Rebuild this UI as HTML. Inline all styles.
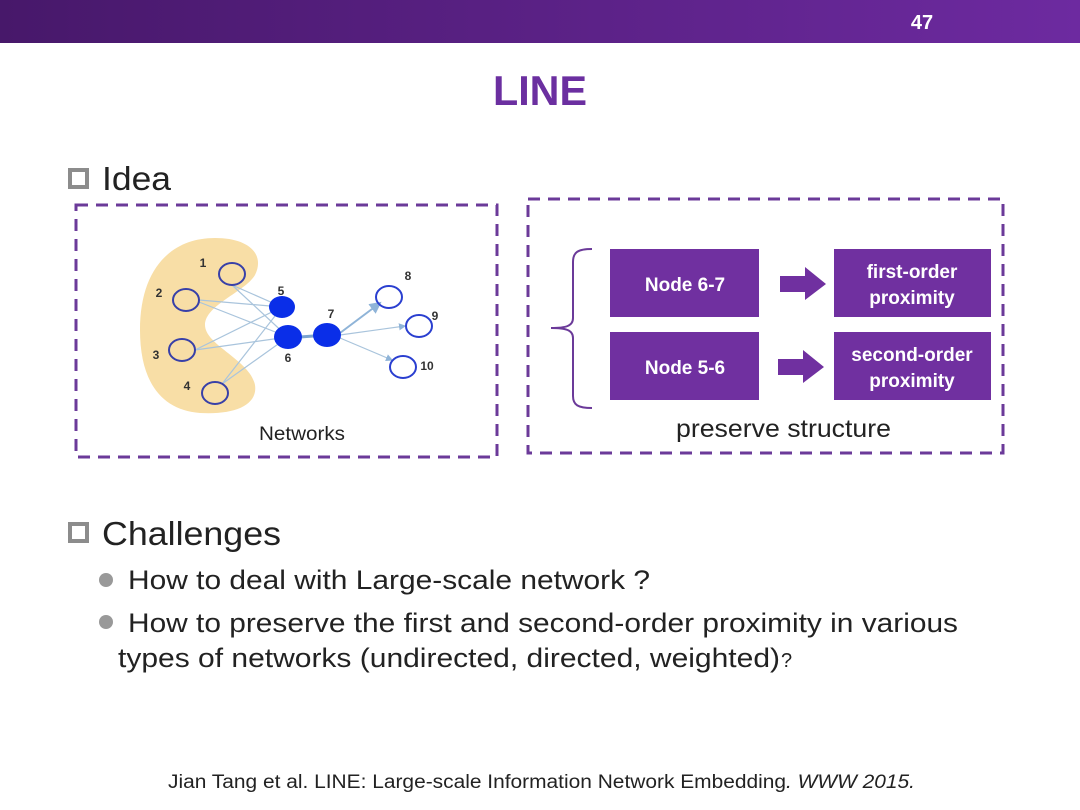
<!DOCTYPE html>
<html><head><meta charset="utf-8"><style>
html,body{margin:0;padding:0;background:#fff;}
svg{display:block;font-family:"Liberation Sans",sans-serif;}
</style></head><body>
<svg width="1080" height="810" viewBox="0 0 1080 810" xmlns="http://www.w3.org/2000/svg">
<defs>
<linearGradient id="hg" x1="0" x2="1" y1="0" y2="0">
<stop offset="0" stop-color="#47186a"/><stop offset="1" stop-color="#6d2aa0"/>
</linearGradient>
<marker id="ah" markerWidth="6" markerHeight="6" refX="5" refY="3" orient="auto"><path d="M0,0 L6,3 L0,6z" fill="#8fb4d8"/></marker>
</defs>
<rect x="0" y="0" width="1080" height="43" fill="url(#hg)"/>
<text x="922" y="29" fill="#fff" font-size="20" font-weight="bold" text-anchor="middle">47</text>
<text x="493" y="105" fill="#6b2fa0" font-size="42" font-weight="bold" textLength="94" lengthAdjust="spacingAndGlyphs">LINE</text>

<rect x="70" y="170" width="17" height="17" fill="none" stroke="#8c8c8c" stroke-width="4"/>
<text x="102" y="190" font-size="33" fill="#222" textLength="69" lengthAdjust="spacingAndGlyphs">Idea</text>

<rect x="76" y="205" width="421" height="252" fill="none" stroke="#6b3a99" stroke-width="3" stroke-dasharray="12 8"/>
<rect x="528" y="199" width="475" height="254" fill="none" stroke="#6b3a99" stroke-width="3" stroke-dasharray="12 8"/>

<path d="M215,238 C250,238 265,255 255,275 C245,292 205,305 205,325 C205,345 250,360 255,385 C258,405 235,415 200,413 C160,410 140,380 140,330 C140,270 170,238 215,238 Z" fill="#f8dea6"/>
<g stroke="#a9c4dc" stroke-width="1.2">
<line x1="232" y1="285" x2="282" y2="307"/><line x1="232" y1="285" x2="288" y2="337"/>
<line x1="199" y1="300" x2="282" y2="307"/><line x1="199" y1="302" x2="288" y2="337"/>
<line x1="195" y1="350" x2="282" y2="307"/><line x1="195" y1="350" x2="288" y2="337"/>
<line x1="222" y1="384" x2="282" y2="307"/><line x1="222" y1="384" x2="288" y2="337"/>
<line x1="300" y1="337" x2="327" y2="335" stroke-width="3" stroke="#7aa3d0"/>
<line x1="340" y1="333" x2="380" y2="303" stroke-width="2" stroke="#8fb4d8" marker-end="url(#ah)"/>
<line x1="340" y1="335" x2="405" y2="326" marker-end="url(#ah)"/>
<line x1="340" y1="338" x2="392" y2="360" marker-end="url(#ah)"/>
</g>
<g fill="none" stroke="#3840a8" stroke-width="2">
<ellipse cx="232" cy="274" rx="13" ry="11"/><ellipse cx="186" cy="300" rx="13" ry="11"/>
<ellipse cx="182" cy="350" rx="13" ry="11"/><ellipse cx="215" cy="393" rx="13" ry="11"/>
</g>
<g fill="none" stroke="#2a3fd0" stroke-width="2">
<ellipse cx="389" cy="297" rx="13" ry="11"/><ellipse cx="419" cy="326" rx="13" ry="11"/>
<ellipse cx="403" cy="367" rx="13" ry="11"/>
</g>
<g fill="#0a2ee8">
<ellipse cx="282" cy="307" rx="13" ry="11"/><ellipse cx="288" cy="337" rx="14" ry="12"/>
<ellipse cx="327" cy="335" rx="14" ry="12"/>
</g>
<g font-size="12" font-weight="bold" fill="#333" text-anchor="middle">
<text x="203" y="267">1</text><text x="159" y="297">2</text><text x="156" y="359">3</text>
<text x="187" y="390">4</text><text x="281" y="295">5</text><text x="288" y="362">6</text>
<text x="331" y="318">7</text><text x="408" y="280">8</text><text x="435" y="320">9</text>
<text x="427" y="370">10</text>
</g>
<text x="259" y="440" font-size="19" fill="#222" textLength="86" lengthAdjust="spacingAndGlyphs">Networks</text>

<path d="M592,249 C578,249 573,252 573,262 L573,318 C573,326 566,328 551,328 C566,328 573,330 573,338 L573,396 C573,405 578,408 592,408" fill="none" stroke="#6b3a99" stroke-width="2"/>
<g fill="#7030a0">
<rect x="610" y="249" width="149" height="68"/><rect x="834" y="249" width="157" height="68"/>
<rect x="610" y="332" width="149" height="68"/><rect x="834" y="332" width="157" height="68"/>
<path d="M780,276 L805,276 L805,267 L826,284 L805,300 L805,292 L780,292z"/>
<path d="M778,359 L803,359 L803,350 L824,367 L803,383 L803,375 L778,375z"/>
</g>
<g fill="#fff" font-size="19" font-weight="bold" text-anchor="middle">
<text x="685" y="291">Node 6-7</text><text x="685" y="374">Node 5-6</text>
<text x="912" y="278">first-order</text><text x="912" y="304">proximity</text>
<text x="912" y="361">second-order</text><text x="912" y="387">proximity</text>
</g>
<text x="676" y="437" font-size="25" fill="#222" textLength="215" lengthAdjust="spacingAndGlyphs">preserve structure</text>

<rect x="70" y="524" width="17" height="17" fill="none" stroke="#8c8c8c" stroke-width="4"/>
<text x="102" y="545" font-size="33" fill="#222" textLength="179" lengthAdjust="spacingAndGlyphs">Challenges</text>
<circle cx="106" cy="580" r="7" fill="#999"/>
<circle cx="106" cy="622" r="7" fill="#999"/>
<g font-size="27" fill="#222">
<text x="128" y="589" textLength="522" lengthAdjust="spacingAndGlyphs">How to deal with Large-scale network ?</text>
<text x="128" y="632" textLength="830" lengthAdjust="spacingAndGlyphs">How to preserve the first and second-order proximity in various</text>
<text x="118" y="667" textLength="662" lengthAdjust="spacingAndGlyphs">types of networks (undirected, directed, weighted)</text>
<text x="781" y="667" font-size="20">?</text>
</g>
<text x="168" y="788" font-size="19" fill="#222" textLength="747" lengthAdjust="spacingAndGlyphs">Jian Tang et al. LINE: Large-scale Information Network Embedding<tspan font-style="italic">. WWW 2015.</tspan></text>
</svg>
</body></html>
